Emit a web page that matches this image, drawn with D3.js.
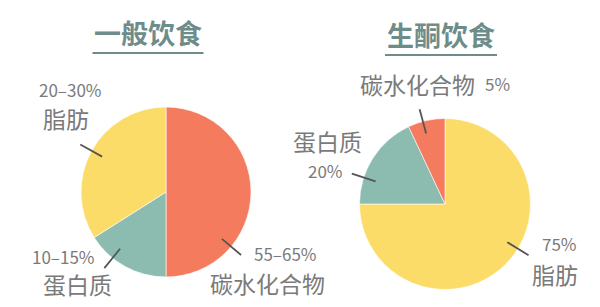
<!DOCTYPE html>
<html>
<head>
<meta charset="utf-8">
<script src="https://cdn.jsdelivr.net/npm/d3@7"></script>
<style>
  body { margin: 0; background: #fff; }
  text { font-family: "Noto Sans CJK SC", "Noto Sans", sans-serif; }
</style>
</head>
<body>
<div id="chart"></div>
<script>
var w = 600;
var h = 307;

// data
var diets = ["一般饮食", "生酮饮食"];
var nutrients = ["碳水化合物", "蛋白质", "脂肪"];
var normalShare = [50, 16, 34];      // as drawn in the picture
var ketoShare = [7, 18, 75];
var normalLabels = ["55–65%", "10–15%", "20–30%"];
var ketoLabels = ["5%", "20%", "75%"];

var colors = ["#F47B5E", "#8BBCAF", "#FCDC69"];

// layout for each pie: centre, radius, slice order, and where labels sit
var pies = [
  { title: diets[0], values: normalShare, labels: normalLabels,
    cx: 166, cy: 192, r: 85, order: [0, 1, 2],
    tx: 148, titleY: 44, lineY: 53, lineW: 111,
    lab: [ { a: 130, pct: [88, 69], name: [44, 101] },
           { a: 219, pct: [-134, 72], name: [-123, 102] },
           { a: 299, pct: [-127, -95], name: [-123, -64] } ] },
  { title: diets[1], values: ketoShare, labels: ketoLabels,
    cx: 445, cy: 204, r: 85.5, order: [2, 1, 0],
    tx: 441, titleY: 46, lineY: 55, lineW: 112,
    lab: [ { a: 345, pct: [40, -113], name: [-85, -110] },
           { a: 288, pct: [-137, -26], name: [-152, -53] },
           { a: 121.5, pct: [97, 47], name: [87, 80] } ] }
];

var svg = d3.select("#chart")
            .append("svg")
            .attr("width", w)
            .attr("height", h);

svg.append("rect").attr("width", w).attr("height", h).attr("fill", "#fff");

pies.forEach(function(p) {
  var g = svg.append("g").attr("transform", "translate(" + p.cx + "," + p.cy + ")");

  var slices = p.order.map(function(i) {
    return { idx: i, name: nutrients[i], value: p.values[i] };
  });

  var pie = d3.pie().sort(null).value(function(d) { return d.value; });
  var arc = d3.arc().innerRadius(0).outerRadius(p.r);

  g.selectAll("path")
   .data(pie(slices))
   .enter()
   .append("path")
   .attr("d", arc)
   .attr("fill", function(d) { return colors[d.data.idx]; })
   .attr("stroke", "#fff")
   .attr("stroke-width", 0.6);

  // leader lines
  g.selectAll("line")
   .data(p.lab)
   .enter()
   .append("line")
   .attr("x1", function(d) { return d3.pointRadial(d.a * Math.PI / 180, 73)[0]; })
   .attr("y1", function(d) { return d3.pointRadial(d.a * Math.PI / 180, 73)[1]; })
   .attr("x2", function(d) { return d3.pointRadial(d.a * Math.PI / 180, 98)[0]; })
   .attr("y2", function(d) { return d3.pointRadial(d.a * Math.PI / 180, 98)[1]; })
   .attr("stroke", "#555")
   .attr("stroke-width", 1.8);

  // percent labels
  g.selectAll("text.pct")
   .data(p.lab)
   .enter()
   .append("text")
   .attr("class", "pct")
   .attr("x", function(d) { return d.pct[0]; })
   .attr("y", function(d) { return d.pct[1]; })
   .attr("font-size", "17px")
   .attr("fill", "#7a7a7a")
   .text(function(d, i) { return p.labels[i]; });

  // nutrient names
  g.selectAll("text.name")
   .data(p.lab)
   .enter()
   .append("text")
   .attr("class", "name")
   .attr("x", function(d) { return d.name[0]; })
   .attr("y", function(d) { return d.name[1]; })
   .attr("font-size", "23px")
   .attr("fill", "#7a7a7a")
   .text(function(d, i) { return nutrients[i]; });

  // title + underline
  svg.append("text")
     .attr("x", p.tx)
     .attr("y", p.titleY)
     .attr("text-anchor", "middle")
     .attr("font-size", "27px")
     .attr("font-weight", "bold")
     .attr("fill", "#6E8D8A")
     .text(p.title);

  svg.append("line")
     .attr("x1", p.tx - p.lineW / 2)
     .attr("x2", p.tx + p.lineW / 2)
     .attr("y1", p.lineY)
     .attr("y2", p.lineY)
     .attr("stroke", "#6E8D8A")
     .attr("stroke-width", 2);
});
</script>
</body>
</html>
